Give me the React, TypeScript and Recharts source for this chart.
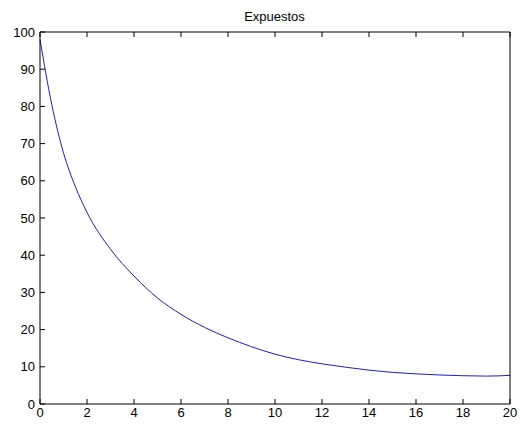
import { LineChart, Line, XAxis, YAxis } from 'recharts';

// time steps and exposed population
const tiempo = [0, 0.5, 1, 1.5, 2, 3, 4, 5, 6, 7, 8, 9, 10, 11, 12, 13, 14, 15, 16, 17, 18, 19, 20];
const expuestos = [98, 80.5, 67.5, 58.5, 51.5, 41.6, 34.4, 28.5, 24.1, 20.6, 17.8, 15.4, 13.4, 11.9, 10.8, 9.9, 9.1, 8.5, 8.1, 7.8, 7.6, 7.5, 7.7];

const xTicks = [0, 2, 4, 6, 8, 10, 12, 14, 16, 18, 20];
const yTicks = [0, 10, 20, 30, 40, 50, 60, 70, 80, 90, 100];

const data = tiempo.map((t, i) => ({ t, v: expuestos[i] }));

const font = { fontFamily: 'Liberation Sans, Arial, sans-serif', fontSize: 13, fill: '#000' };
const axisLine = { stroke: '#000', strokeWidth: 1 };
const blank = () => '';

export default function App() {
  return (
    <div style={{ position: 'absolute', left: 0, top: 0, width: 521, height: 425, background: '#fff' }}>
      <LineChart width={521} height={425} data={data} margin={{ top: 32, right: 11, left: 0, bottom: 0 }}>
        <text x={274.5} y={16} textAnchor="middle" dominantBaseline="central" style={font}>
          Expuestos
        </text>
        <XAxis
          dataKey="t"
          type="number"
          domain={[0, 20]}
          ticks={xTicks}
          height={21}
          tickSize={-5}
          tickMargin={9}
          tick={font}
          axisLine={axisLine}
          tickLine={axisLine}
          interval={0}
        />
        <XAxis
          xAxisId="top"
          orientation="top"
          dataKey="t"
          type="number"
          domain={[0, 20]}
          ticks={xTicks}
          height={1}
          mirror
          tickSize={5}
          tickFormatter={blank}
          axisLine={axisLine}
          tickLine={axisLine}
          interval={0}
        />
        <YAxis
          type="number"
          domain={[0, 100]}
          ticks={yTicks}
          width={40}
          tickSize={-5}
          tickMargin={10}
          tick={font}
          axisLine={axisLine}
          tickLine={axisLine}
          interval={0}
        />
        <YAxis
          yAxisId="right"
          orientation="right"
          type="number"
          domain={[0, 100]}
          ticks={yTicks}
          width={1}
          mirror
          tickSize={5}
          tickFormatter={blank}
          axisLine={axisLine}
          tickLine={axisLine}
          interval={0}
        />
        <Line
          type="monotone"
          dataKey="v"
          stroke="#1c1ccc"
          strokeWidth={1}
          dot={false}
          isAnimationActive={false}
        />
      </LineChart>
    </div>
  );
}
